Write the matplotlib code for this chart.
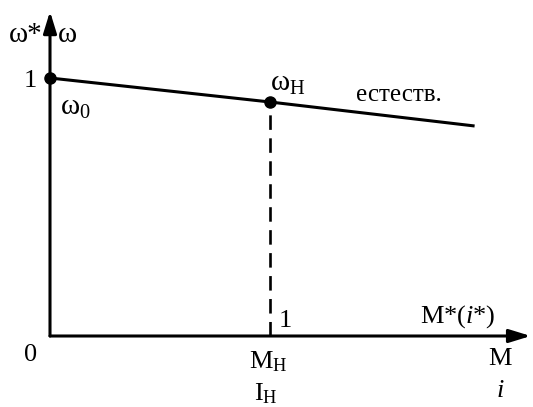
import matplotlib.pyplot as plt

plt.rcParams['font.family'] = 'Liberation Serif'
plt.rcParams['mathtext.fontset'] = 'custom'
plt.rcParams['mathtext.rm'] = 'Liberation Serif'
plt.rcParams['mathtext.it'] = 'Liberation Serif:italic'

# естественная характеристика в относительных единицах
M_pts = [0.0, 1.0, 1.93]
w_pts = [1.0, 0.907, 0.814]
M_nom = 1.0
w_nom = 0.907

fig = plt.figure(figsize=(5.33, 4.07), dpi=100)
ax = fig.add_axes([0, 0, 1, 1])
ax.set_xlim(-50 / 220, 483 / 220)
ax.set_ylim(-71 / 258, 336 / 258)
ax.axis('off')

lw = 2.2
arrow = dict(arrowstyle='-|>,head_length=1.3,head_width=0.4', lw=lw, color='k',
             shrinkA=0, shrinkB=0)
ax.annotate('', xy=(0, 1.258), xytext=(0, 0), arrowprops=arrow)
ax.annotate('', xy=(2.185, 0), xytext=(0, 0), arrowprops=arrow)

ax.plot(M_pts, w_pts, color='k', lw=lw, solid_capstyle='butt')
ax.plot([M_nom, M_nom], [0, w_nom], color='k', lw=1.9, dashes=(5.5, 3.2))
ax.plot([0, M_nom], [1, w_nom], 'o', color='k', ms=8)

fs = 19
fw = 21  # omega glyphs a bit larger
ax.text(-0.185, 1.165, r'ω*', fontsize=fw, va='center', ha='left')
ax.text(0.035, 1.165, r'ω', fontsize=fw, va='center', ha='left')
ax.text(-0.09, 0.99, '1', fontsize=fs, va='center', ha='center')
ax.text(0.045, 0.885, r'$\mathrm{ω}_{\mathrm{0}}$', fontsize=fw, va='center', ha='left')
ax.text(1.0, 0.975, r'$\mathrm{ω}_{\mathrm{Н}}$', fontsize=fw, va='center', ha='left')
ax.text(1.39, 0.935, 'естеств.', fontsize=18, va='center', ha='left')
ax.text(1.04, 0.06, '1', fontsize=fs, va='center', ha='left')
ax.text(1.68, 0.075, r'M*($\mathit{i}$*)', fontsize=fs, va='center', ha='left')
ax.text(-0.09, -0.075, '0', fontsize=fs, va='center', ha='center')
ax.text(0.99, -0.1, r'$\mathrm{M}_{\mathrm{Н}}$', fontsize=fs, va='center', ha='center')
ax.text(0.98, -0.225, r'$\mathrm{I}_{\mathrm{Н}}$', fontsize=fs, va='center', ha='center')
ax.text(2.045, -0.09, 'M', fontsize=fs, va='center', ha='center')
ax.text(2.045, -0.215, r'$\mathit{i}$', fontsize=fs, va='center', ha='center')

fig.savefig('out.png', dpi=100)
